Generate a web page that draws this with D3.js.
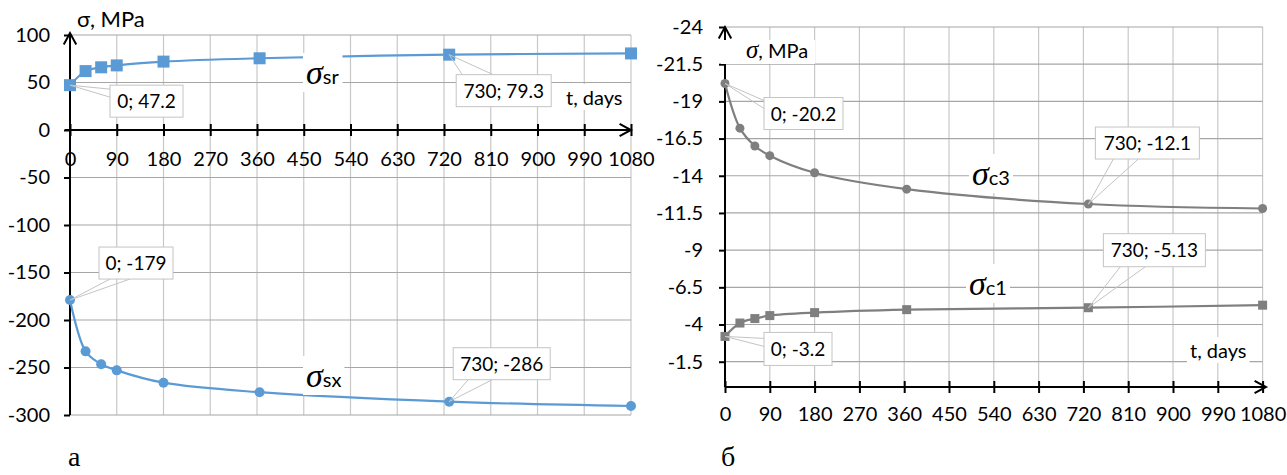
<!DOCTYPE html>
<html>
<head>
<meta charset="utf-8">
<script src="https://cdn.jsdelivr.net/npm/d3@7"></script>
<style>
  body { margin: 0; background: #fff; }
  svg text { font-family: Lato, "Open Sans", sans-serif; font-size: 20px; fill: #000; }
  svg text.cl { font-size: 19px; }
</style>
</head>
<body>
<div id="chart"></div>
<script>
// time points, days
const days = [0, 30, 60, 90, 180, 365, 730, 1080];

// panel a, MPa
const sigmaSr = [47.2, 62, 66, 68, 72, 75.5, 79.3, 80.6];
const sigmaSx = [-179, -233, -246.5, -253, -266, -276, -286, -290.5];

// panel б, MPa
const sigmaC3 = [-20.2, -17.2, -16.0, -15.35, -14.2, -13.1, -12.1, -11.8];
const sigmaC1 = [-3.2, -4.1, -4.4, -4.6, -4.8, -5.0, -5.13, -5.3];

// tick labels
const dayTicks = [0, 90, 180, 270, 360, 450, 540, 630, 720, 810, 900, 990, 1080];
const ticksA = [100, 50, 0, -50, -100, -150, -200, -250, -300];
const ticksB = [-24, -21.5, -19, -16.5, -14, -11.5, -9, -6.5, -4, -1.5];

const blue = "#5b9bd5";
const grey = "#7f7f7f";

const svg = d3.select("#chart").append("svg")
  .attr("width", 1287)
  .attr("height", 475);

function arrowPath(x1, y1, x2, y2) {
  // line with open arrow head at (x2,y2)
  const a = Math.atan2(y2 - y1, x2 - x1);
  const L = 13, W = 0.5;
  const p1 = [x2 - L * Math.cos(a - W), y2 - L * Math.sin(a - W)];
  const p2 = [x2 - L * Math.cos(a + W), y2 - L * Math.sin(a + W)];
  return `M${x1},${y1}L${x2},${y2}M${p1[0]},${p1[1]}L${x2},${y2}L${p2[0]},${p2[1]}`;
}

// white box behind a text element
function backing(g, node, pad) {
  const b = node.getBBox();
  g.insert("rect", () => node)
    .attr("x", b.x - pad).attr("y", b.y - pad + 2)
    .attr("width", b.width + 2 * pad).attr("height", b.height + 2 * pad - 4)
    .attr("fill", "#fff");
}

function sigmaLabel(g, x, y, sub) {
  const t = g.append("text").attr("x", x).attr("y", y);
  t.append("tspan").text("σ")
    .style("font-family", "'Liberation Serif', serif")
    .style("font-style", "italic")
    .style("font-size", "34px");
  t.append("tspan").text(sub);
  backing(g, t.node(), 3);
}

function callout(g, px, py, c, txt) {
  const bx = px + c.dx, by = py + c.dy;
  g.append("path")
    .attr("d", `M${px},${py}L${bx + c.w1[0]},${by + c.w1[1]}M${px},${py}L${bx + c.w2[0]},${by + c.w2[1]}`)
    .attr("stroke", "#c4c4c4").attr("fill", "none");
  g.append("rect")
    .attr("x", bx).attr("y", by).attr("width", c.w).attr("height", c.h)
    .attr("fill", "#fff").attr("stroke", "#c4c4c4");
  g.append("text").attr("class", "cl")
    .attr("x", bx + c.w / 2).attr("y", by + c.h / 2 + 7)
    .attr("text-anchor", "middle")
    .text(txt);
}

function panel(cfg) {
  const g = svg.append("g");
  const x = d3.scaleLinear().domain([0, 1080]).range(cfg.xRange);
  const y = d3.scaleLinear().domain(cfg.yDomain).range(cfg.yRange);
  const [x0, x1] = cfg.xRange;
  const top = Math.min(...cfg.yRange), bot = Math.max(...cfg.yRange);

  // grid
  g.append("g").selectAll("line").data(dayTicks).join("line")
    .attr("x1", d => x(d)).attr("x2", d => x(d))
    .attr("y1", top).attr("y2", bot)
    .attr("stroke", "#c8c8c8").attr("stroke-width", 1.2);
  g.append("g").selectAll("line").data(cfg.yTicks).join("line")
    .attr("x1", x0).attr("x2", x1)
    .attr("y1", d => y(d)).attr("y2", d => y(d))
    .attr("stroke", "#a6a6a6").attr("stroke-width", 1.2);

  // y axis
  const ya = g.append("g")
    .attr("transform", `translate(${x0},0)`)
    .call(d3.axisLeft(y).tickValues(cfg.yTicks).tickFormat(d => String(d))
      .tickSize(6).tickPadding(cfg.yPad));
  ya.select(".domain").remove();
  ya.selectAll(".tick line").attr("stroke", "#000").attr("stroke-width", 2);
  ya.selectAll("text").attr("font-size", null).attr("font-family", null);

  // x axis
  const xa = g.append("g")
    .attr("transform", `translate(0,${cfg.xAxisY})`)
    .call(d3.axisBottom(x).tickValues(dayTicks).tickFormat(d => String(d)).tickSize(6));
  xa.select(".domain").remove();
  xa.selectAll(".tick line").attr("y1", -6).attr("y2", 6)
    .attr("stroke", "#000").attr("stroke-width", 2);
  xa.selectAll("text").attr("y", cfg.xLabY).attr("font-size", null).attr("font-family", null);

  g.append("path").attr("d", arrowPath(cfg.xStart, cfg.xAxisY, cfg.xEnd, cfg.xAxisY))
    .attr("stroke", "#000").attr("stroke-width", 2).attr("fill", "none");
  g.append("path").attr("d", arrowPath(x0, bot, x0, cfg.yTip))
    .attr("stroke", "#000").attr("stroke-width", 2).attr("fill", "none");

  const line = d3.line()
    .x((d, i) => x(days[i]))
    .y(d => y(d))
    .curve(d3.curveCatmullRom.alpha(0.5));

  cfg.series.forEach(s => {
    g.append("path").datum(s.values)
      .attr("d", line)
      .attr("fill", "none")
      .attr("stroke", s.color)
      .attr("stroke-width", 2.2);
    if (s.marker === "square") {
      g.append("g").selectAll("rect").data(s.values).join("rect")
        .attr("x", (d, i) => x(days[i]) - s.size / 2)
        .attr("y", d => y(d) - s.size / 2)
        .attr("width", s.size).attr("height", s.size)
        .attr("fill", s.color);
    } else {
      g.append("g").selectAll("circle").data(s.values).join("circle")
        .attr("cx", (d, i) => x(days[i]))
        .attr("cy", d => y(d))
        .attr("r", s.size / 2)
        .attr("fill", s.color);
    }
  });

  cfg.series.forEach(s => {
    s.callouts.forEach(c => {
      const v = s.values[c.i];
      callout(g, x(days[c.i]), y(v), c, `${days[c.i]}; ${v}`);
    });
    sigmaLabel(g, s.labelX, s.labelY, s.sub);
  });

  const td = g.append("text").attr("x", cfg.tX).attr("y", cfg.tY).text("t, days");
  backing(g, td.node(), 3);

  return g;
}

// panel a
const ga = panel({
  xRange: [70, 631],
  yDomain: [-300, 100],
  yRange: [415, 35],
  yTicks: ticksA,
  yPad: 14,
  xAxisY: 130,
  xLabY: 22,
  xStart: 65, xEnd: 631,
  yTip: 33,
  tX: 566, tY: 105,
  series: [
    { values: sigmaSr, color: blue, marker: "square", size: 12, sub: "sr", labelX: 306, labelY: 84,
      callouts: [
        { i: 0, dx: 40, dy: 0, w: 73, h: 32, w1: [0, 4], w2: [0, 12] },
        { i: 6, dx: 7, dy: 20, w: 95, h: 32, w1: [6, 0], w2: [37, 0] }
      ] },
    { values: sigmaSx, color: blue, marker: "circle", size: 10, sub: "sx", labelX: 306, labelY: 387,
      callouts: [
        { i: 0, dx: 29, dy: -53, w: 74, h: 32, w1: [11, 32], w2: [31, 32] },
        { i: 6, dx: 4, dy: -54, w: 97, h: 32, w1: [15, 32], w2: [39, 32] }
      ] }
  ]
});
ga.append("text").attr("x", 77).attr("y", 27).text("σ, MPa").style("font-size", "22px");

// panel б
const gb = panel({
  xRange: [725, 1262.6],
  yDomain: [-24, 0.2],
  yRange: [27, 387],
  yTicks: ticksB,
  yPad: 16,
  xAxisY: 387,
  xLabY: 20,
  xStart: 725, xEnd: 1266,
  yTip: 27,
  tX: 1190, tY: 358,
  series: [
    { values: sigmaC3, color: grey, marker: "circle", size: 9, sub: "c3", labelX: 972, labelY: 185,
      callouts: [
        { i: 0, dx: 39, dy: 14, w: 79, h: 32, w1: [0, 3], w2: [0, 11] },
        { i: 6, dx: 7, dy: -77, w: 104, h: 32, w1: [18, 32], w2: [43, 32] }
      ] },
    { values: sigmaC1, color: grey, marker: "square", size: 9, sub: "c1", labelX: 969, labelY: 295,
      callouts: [
        { i: 0, dx: 39, dy: -4, w: 68, h: 33, w1: [0, 6], w2: [0, 14] },
        { i: 6, dx: 15, dy: -74, w: 102, h: 33, w1: [17, 33], w2: [42, 33] }
      ] }
  ]
});
const mpa = gb.append("text").attr("x", 746).attr("y", 58);
mpa.append("tspan").text("σ")
  .style("font-family", "'Liberation Serif', serif").style("font-style", "italic").style("font-size", "25px");
mpa.append("tspan").text(", MPa");
gb.insert("rect", () => mpa.node())
  .attr("x", 721).attr("y", 40).attr("width", 94).attr("height", 24).attr("fill", "#fff");

// panel captions
svg.append("text").attr("x", 68).attr("y", 466).text("а")
  .style("font-family", "'Liberation Serif', serif").style("font-size", "28px");
svg.append("text").attr("x", 721).attr("y", 466).text("б")
  .style("font-family", "'Liberation Serif', serif").style("font-size", "28px");
</script>
</body>
</html>
